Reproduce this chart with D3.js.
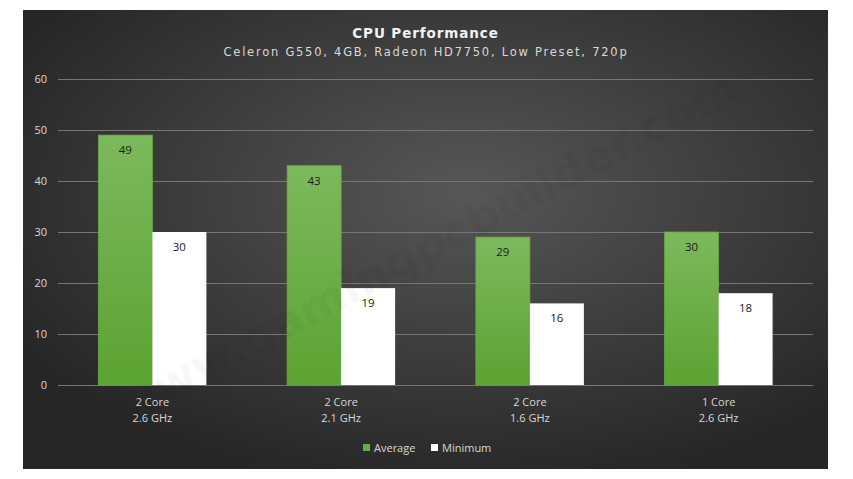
<!DOCTYPE html>
<html><head><meta charset="utf-8">
<script src="https://cdn.jsdelivr.net/npm/d3@7"></script>
<style>html,body{margin:0;padding:0;background:#fff;}svg{display:block;}</style>
</head><body>
<svg id="c" width="853" height="479"></svg>
<script>
const categories = [["2 Core","2.6 GHz"],["2 Core","2.1 GHz"],["2 Core","1.6 GHz"],["1 Core","2.6 GHz"]];
const seriesNames = ["Average","Minimum"];
const average = [49,43,29,30];
const minimum = [30,19,16,18];
const yTicks = [0,10,20,30,40,50,60];
const titleText = "CPU Performance";
const subtitleText = "Celeron G550, 4GB, Radeon HD7750, Low Preset, 720p";

const svg = d3.select("#c");
const defs = svg.append("defs");
const bg = defs.append("radialGradient").attr("id","bg").attr("cx","0.55").attr("cy","0.4").attr("r","0.65");
bg.append("stop").attr("offset","0").attr("stop-color","#575757");
bg.append("stop").attr("offset","1").attr("stop-color","#262626");
const gg = defs.append("linearGradient").attr("id","gr").attr("x1",0).attr("y1",0).attr("x2",0).attr("y2",1);
gg.append("stop").attr("offset","0").attr("stop-color","#7cb95c");
gg.append("stop").attr("offset","1").attr("stop-color","#5ba332");

const box = {x:23,y:10,w:805,h:459};
svg.append("rect").attr("x",box.x).attr("y",box.y).attr("width",box.w).attr("height",box.h).attr("fill","url(#bg)");

const m = {l:58, r:813, t:79, b:385};
const y = d3.scaleLinear().domain([0,60]).range([m.b,m.t]);
const x0 = d3.scaleBand().domain(d3.range(categories.length)).range([m.l,m.r]).paddingInner(0.4278).paddingOuter(0.2139);
const x1 = d3.scaleBand().domain(seriesNames).range([0,x0.bandwidth()]);

// grid
const yAxis = d3.axisLeft(y).tickValues(yTicks).tickSize(-(m.r-m.l)).tickPadding(11);
const ga = svg.append("g").attr("transform",`translate(${m.l},0)`).call(yAxis);
ga.select(".domain").remove();
ga.selectAll(".tick line").attr("stroke","#767676").attr("stroke-width",1);
ga.selectAll(".tick text").attr("fill","#d9d9d9").attr("font-family","Open Sans, Liberation Sans").attr("font-size",11);

// bars
const data = categories.map((c,i)=>({i, vals:[{s:"Average",v:average[i]},{s:"Minimum",v:minimum[i]}]}));
const g = svg.append("g").selectAll("g").data(data).join("g").attr("transform",d=>`translate(${x0(d.i)},0)`);
g.selectAll("rect").data(d=>d.vals).join("rect")
  .attr("x",d=>x1(d.s)).attr("width",x1.bandwidth())
  .attr("y",d=>y(d.v)).attr("height",d=>y(0)-y(d.v))
  .attr("fill",d=>d.s==="Average"?"url(#gr)":"#ffffff")
  .attr("stroke",d=>d.s==="Average"?"#6aa84a":"none").attr("stroke-width",0.8);
g.selectAll("text").data(d=>d.vals).join("text")
  .attr("x",d=>x1(d.s)+x1.bandwidth()/2).attr("y",d=>y(d.v)+19)
  .attr("text-anchor","middle").attr("font-family","Open Sans, Liberation Sans").attr("font-size",11.5)
  .attr("fill","#1a1a1a").text(d=>d.v);

// category labels
const cl = svg.append("g").selectAll("text").data(categories).join("text")
  .attr("x",(d,i)=>x0(i)+x0.bandwidth()/2).attr("y",406)
  .attr("text-anchor","middle").attr("font-family","Open Sans, Liberation Sans").attr("font-size",11)
  .attr("fill","#d9d9d9");
cl.selectAll("tspan").data(d=>d).join("tspan").attr("x",function(){return this.parentNode.getAttribute("x");})
  .attr("dy",(d,j)=>j===0?0:16).text(d=>d);

// title
svg.append("text").attr("x",425.5).attr("y",38).attr("text-anchor","middle")
  .attr("font-family","DejaVu Sans").attr("font-weight","bold").attr("font-size",13.5)
  .attr("letter-spacing",0.9).attr("fill","#f2f2f2").text(titleText);
svg.append("text").attr("x",426).attr("y",56).attr("text-anchor","middle")
  .attr("font-family","DejaVu Sans").attr("font-size",11.5)
  .attr("letter-spacing",1.75).attr("fill","#d9d9d9").text(subtitleText);

// legend
const leg = [{n:"Average",c:"#6aad45",x:363},{n:"Minimum",c:"#ffffff",x:431}];
const lg = svg.append("g").selectAll("g").data(leg).join("g").attr("transform",d=>`translate(${d.x},444)`);
lg.append("rect").attr("width",7).attr("height",7).attr("fill",d=>d.c);
lg.append("text").attr("x",11).attr("y",8).attr("font-family","Open Sans, Liberation Sans").attr("font-size",11)
  .attr("fill","#d9d9d9").text(d=>d.n);

// watermark (overlay)
svg.append("text").attr("transform","translate(428,250) rotate(-28)")
  .attr("text-anchor","middle").attr("dominant-baseline","middle")
  .attr("font-family","DejaVu Sans").attr("font-weight","bold").attr("font-size",46)
  .attr("fill","#000").attr("fill-opacity",0.05).text("www.gamingpcbuilder.com");
</script>
</body></html>
